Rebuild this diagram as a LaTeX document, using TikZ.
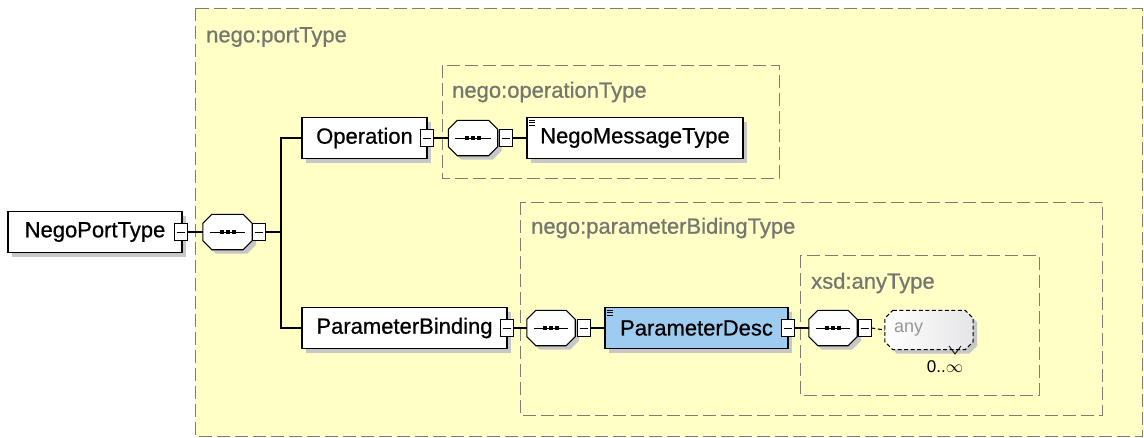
\documentclass[tikz,border=0pt]{standalone}
\usepackage{fontspec}
\setmainfont{Liberation Sans}
\newfontfamily\heavyfam{Liberation Sans}[FakeBold=0.7]
\usetikzlibrary{calc,shadows}
\definecolor{bgyellow}{RGB}{255,255,198}
\definecolor{dashgray}{RGB}{125,125,115}
\definecolor{labgray}{RGB}{118,118,112}
\definecolor{anygray}{RGB}{150,150,150}
\definecolor{descblue}{RGB}{158,204,240}
\newcommand\efont{\heavyfam\fontsize{22}{25}\selectfont}
% octagon path around a named node, chamfer #2
\newcommand\octpath[2]{($(#1.north west)+(#2,0)$) -- ($(#1.north east)+(-#2,0)$) -- ($(#1.north east)+(0,#2)$) -- ($(#1.south east)+(0,-#2)$) -- ($(#1.south east)+(-#2,0)$) -- ($(#1.south west)+(#2,0)$) -- ($(#1.south west)+(0,-#2)$) -- ($(#1.north west)+(0,#2)$) -- cycle}
\begin{document}
\begin{tikzpicture}[x=1pt,y=-1pt,
  grpbox/.style={draw=dashgray, line width=1pt, dash pattern=on 13pt off 5pt},
  grplabel/.style={anchor=west, inner sep=0pt, text=labgray, font=\efont},
  elem/.style={draw=black, line width=1.1pt, fill=white, minimum height=41pt, inner sep=0pt, font=\efont, text=black,
    drop shadow={shadow xshift=4pt, shadow yshift=-4pt, fill=black!22, opacity=1}},
  minusbox/.style={draw=black, line width=0.9pt, fill=white, minimum width=13pt, minimum height=17pt, inner sep=0pt,
    path picture={\draw[line width=0.9pt] ($(path picture bounding box.center)+(-4,0)$) -- ($(path picture bounding box.center)+(4,0)$);}},
  seqbox/.style={minimum width=49pt, minimum height=35pt, inner sep=0pt},
  conn/.style={draw=black, line width=1.1pt}
]
\useasboundingbox (0,0) rectangle (1144,437);
\fill[white] (0,0) rectangle (1144,437);
\fill[bgyellow] (195,8) rectangle (1144,437);

% group boxes
\draw[grpbox] (195,8) rectangle (1142,436);
\draw[grpbox] (442,65) rectangle (779,178);
\draw[grpbox] (520,202) rectangle (1102,415);
\draw[grpbox] (800,255) rectangle (1039,395);

% group labels
\node[grplabel] (lport) at (206,37) {nego:portType};
\node[grplabel] (lop) at (452,92) {nego:operationType};
\node[grplabel] (lpar) at (531,228) {nego:parameterBidingType};
\node[grplabel] (lany) at (811,283) {xsd:anyType};

% element nodes
\node[elem, minimum width=174pt] (npt) at (95,232) {NegoPortType};
\node[elem, minimum width=125pt] (op) at (364.5,138) {Operation};
\node[elem, minimum width=216pt] (nmt) at (635,138) {NegoMessageType};
\node[elem, minimum width=205pt] (pb) at (404.5,328) {ParameterBinding};
\node[elem, minimum width=183pt, fill=descblue] (pd) at (696.5,328) {ParameterDesc};

% sequence compositors
\node[seqbox] (s1) at (227.5,232) {};
\node[seqbox] (s2) at (473,138) {};
\node[seqbox, minimum width=48pt] (s3) at (551,328) {};
\node[seqbox, minimum width=48pt] (s4) at (833,328) {};
\foreach \n in {s1,s2,s3,s4}{
  \fill[black!22, transform canvas={shift={(4pt,-4pt)}}] \octpath{\n}{9};
  \draw[line width=1.1pt, fill=white] \octpath{\n}{9};
  \draw[line width=1pt] ($(\n.west)+(7,0)$) -- ($(\n.east)+(-7,0)$);
  \foreach \dx in {-6,0,6}{
    \fill ($(\n.center)+(\dx,0)+(-2,-2)$) rectangle ++(4,4);
  }
}

% wildcard any
\node[minimum width=88pt, minimum height=39pt, inner sep=0pt] (any) at (929,330) {};
\fill[black!22, transform canvas={shift={(4pt,-4pt)}}] \octpath{any}{8};
\shade[left color=white, right color=blue!8!black!10] \octpath{any}{8};
\draw[line width=1pt, dash pattern=on 4pt off 2.5pt] \octpath{any}{8};
\node[anchor=west, inner sep=0pt, text=anygray, font=\fontsize{18}{20}\selectfont] (anyt) at ($(any.west)+(9,0)$) {any};
\coordinate (chev) at (955,350);
\draw[line width=0.8pt] ($(chev)+(-6,-4)$) -- ($(chev)+(0,4)$) -- ($(chev)+(6,-4)$);
\node[inner sep=0pt, font=\fontsize{17}{19}\selectfont] (occ) at (945,367) {0..$\infty$};

% minus boxes
\node[minusbox] (m1) at (181,232) {};
\node[minusbox] (m2) at (259,232) {};
\node[minusbox] (m3) at (427,138) {};
\node[minusbox] (m4) at (505.5,138) {};
\node[minusbox] (m5) at (507,328) {};
\node[minusbox] (m6) at (584,328) {};
\node[minusbox] (m7) at (788,328) {};
\node[minusbox] (m8) at (864.5,328) {};

% element icons (three bars)
\foreach \e in {nmt,pd}{
  \foreach \dy in {3,5.5,8}{
    \draw[line width=0.8pt] ($(\e.north west)+(3,\dy)$) -- ++(6,0);
  }
}

% connectors
\coordinate (jt) at (281,138);
\coordinate (jb) at (281,328);
\coordinate (jm) at (281,232);
\draw[conn] (m1.east) -- (s1.west);
\draw[conn] (m2.east) -- (jm);
\draw[conn] (op.west) -- (jt) -- (jb) -- (pb.west);
\draw[conn] (m3.east) -- (s2.west);
\draw[conn] (m4.east) -- (nmt.west);
\draw[conn] (m5.east) -- (s3.west);
\draw[conn] (m6.east) -- (pd.west);
\draw[conn] (m7.east) -- (s4.west);
\draw[conn, dash pattern=on 4pt off 2.5pt] (m8.east) -- (any.west);
\end{tikzpicture}
\end{document}
